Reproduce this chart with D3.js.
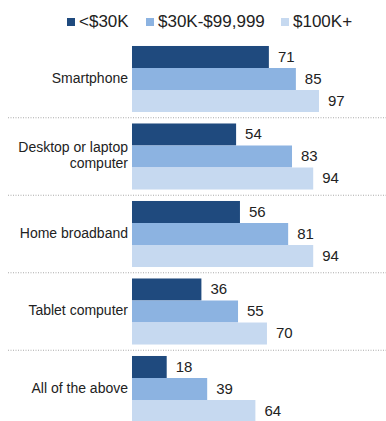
<!DOCTYPE html>
<html>
<head>
<meta charset="utf-8">
<script src="https://cdn.jsdelivr.net/npm/d3@7"></script>
<style>
  body { margin: 0; background: #fff; }
  text { font-family: "Liberation Sans", Arial, sans-serif; fill: #222; }
</style>
</head>
<body>
<svg id="chart"></svg>
<script>
// data
const categories = ["Smartphone", "Desktop or laptop computer", "Home broadband", "Tablet computer", "All of the above"]
const categoryLines = [["Smartphone"], ["Desktop or laptop", "computer"], ["Home broadband"], ["Tablet computer"], ["All of the above"]]
const seriesNames = ["<$30K", "$30K-$99,999", "$100K+"]
const lowIncome = [71, 54, 56, 36, 18]
const midIncome = [85, 83, 81, 55, 39]
const highIncome = [97, 94, 94, 70, 64]
const colors = ["#1f4a7e", "#8cb3e1", "#c6d9f0"]

const seriesValues = [lowIncome, midIncome, highIncome]

let width = 386
let height = 421
let left = 132

const svg = d3.select("#chart")
    .attr("width", width)
    .attr("height", height)

const x = d3.scaleLinear()
    .domain([0, 97])
    .range([left, 319])

const y = d3.scaleBand()
    .domain(categories)
    .range([40.25, 40.25 + 5 * 77.5])
    .paddingInner(0.148)
    .paddingOuter(0.074)

const ySub = d3.scaleBand()
    .domain(seriesNames)
    .range([0, y.bandwidth()])

const color = d3.scaleOrdinal().domain(seriesNames).range(colors)

// dotted separators between groups
svg.selectAll(".sep")
    .data(categories.slice(1))
    .join("line")
    .attr("class", "sep")
    .attr("x1", 8).attr("x2", width)
    .attr("y1", d => y(d) - y.step() * y.paddingInner() / 2)
    .attr("y2", d => y(d) - y.step() * y.paddingInner() / 2)
    .attr("stroke", "#aaa")
    .attr("stroke-width", 1)
    .attr("stroke-dasharray", "1,1.5")

const groups = svg.selectAll(".group")
    .data(categories)
    .join("g")
    .attr("class", "group")
    .attr("transform", d => `translate(0,${y(d)})`)

groups.selectAll("rect")
    .data((d, i) => seriesNames.map((s, j) => ({s, v: seriesValues[j][i]})))
    .join("rect")
    .attr("x", x(0))
    .attr("y", d => ySub(d.s))
    .attr("width", d => x(d.v) - x(0))
    .attr("height", ySub.bandwidth())
    .attr("fill", d => color(d.s))

groups.selectAll(".val")
    .data((d, i) => seriesNames.map((s, j) => ({s, v: seriesValues[j][i]})))
    .join("text")
    .attr("class", "val")
    .attr("x", d => x(d.v) + 9)
    .attr("y", d => ySub(d.s) + ySub.bandwidth() / 2 + 1)
    .attr("dominant-baseline", "middle")
    .attr("font-size", 15)
    .text(d => d.v)

// category labels, right aligned against the bars
groups.each(function(d, i) {
    const lines = categoryLines[i]
    const t = d3.select(this).append("text")
        .attr("text-anchor", "end")
        .attr("font-size", 14)
    lines.forEach((ln, k) => {
        t.append("tspan")
            .attr("x", left - 4)
            .attr("y", y.bandwidth() / 2 + (k - (lines.length - 1) / 2) * 16)
            .attr("dominant-baseline", "middle")
            .text(ln)
    })
})

// legend
const legendX = [67, 146, 281]
const legend = svg.selectAll(".legend")
    .data(seriesNames)
    .join("g")
    .attr("class", "legend")
    .attr("transform", (d, i) => `translate(${legendX[i]},0)`)

legend.append("rect")
    .attr("x", 0).attr("y", 18)
    .attr("width", 8).attr("height", 8)
    .attr("fill", d => color(d))

legend.append("text")
    .attr("x", 12)
    .attr("y", 26.5)
    .attr("font-size", 17)
    .text(d => d)
</script>
</body>
</html>
